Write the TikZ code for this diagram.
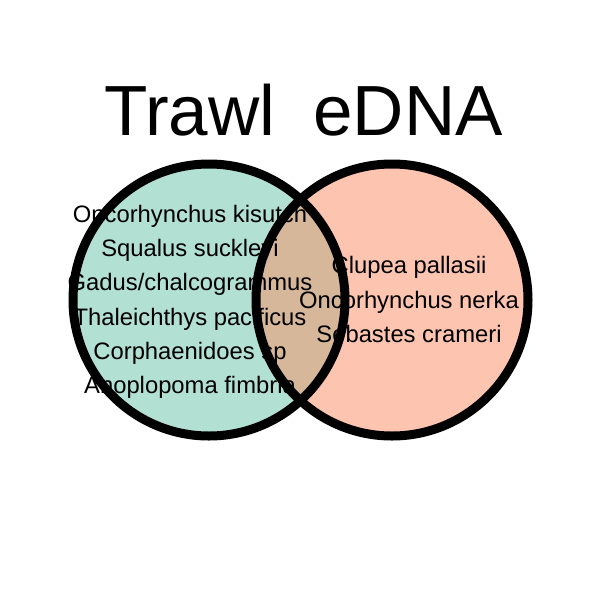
\documentclass[tikz,border=0pt]{standalone}
\usepackage{fontspec}
\setmainfont{Liberation Sans}
\definecolor{trawlfill}{HTML}{B2E0D3}
\definecolor{ednafill}{HTML}{FDC5B0}
\definecolor{bothfill}{HTML}{D6B79A}
\begin{document}
\begin{tikzpicture}[x=1pt,y=-1pt,
  sp/.style={anchor=base,inner sep=0pt,font=\fontsize{23.8}{28}\selectfont},
  ttl/.style={anchor=base,inner sep=0pt,font=\fontsize{71}{80}\selectfont},
  ring/.style={draw=black,line width=9pt}]
\useasboundingbox[fill=white] (0,0) rectangle (600,600);
\coordinate (cl) at (209,300);
\coordinate (cr) at (392,300);
\fill[trawlfill] (cl) circle[radius=136];
\fill[ednafill] (cr) circle[radius=136];
\begin{scope}
\clip (cl) circle[radius=136];
\fill[bothfill] (cr) circle[radius=136];
\end{scope}
\node[ttl] (t1) at (190,135) {Trawl};
\node[ttl] (t2) at (408,135) {eDNA};
\node[sp] (a1) at (190,222) {Oncorhynchus kisutch};
\node[sp] (a2) at (190,256) {Squalus suckleyi};
\node[sp] (a3) at (190,290) {Gadus/chalcogrammus};
\node[sp] (a4) at (190,325) {Thaleichthys pacificus};
\node[sp] (a5) at (190,359) {Corphaenidoes sp};
\node[sp] (a6) at (190,393) {Anoplopoma fimbria};
\node[sp] (b1) at (409,273) {Clupea pallasii};
\node[sp] (b2) at (409,308) {Oncorhynchus nerka};
\node[sp] (b3) at (409,342) {Sebastes crameri};
\draw[ring] (cl) circle[radius=136];
\draw[ring] (cr) circle[radius=136];
\end{tikzpicture}
\end{document}
